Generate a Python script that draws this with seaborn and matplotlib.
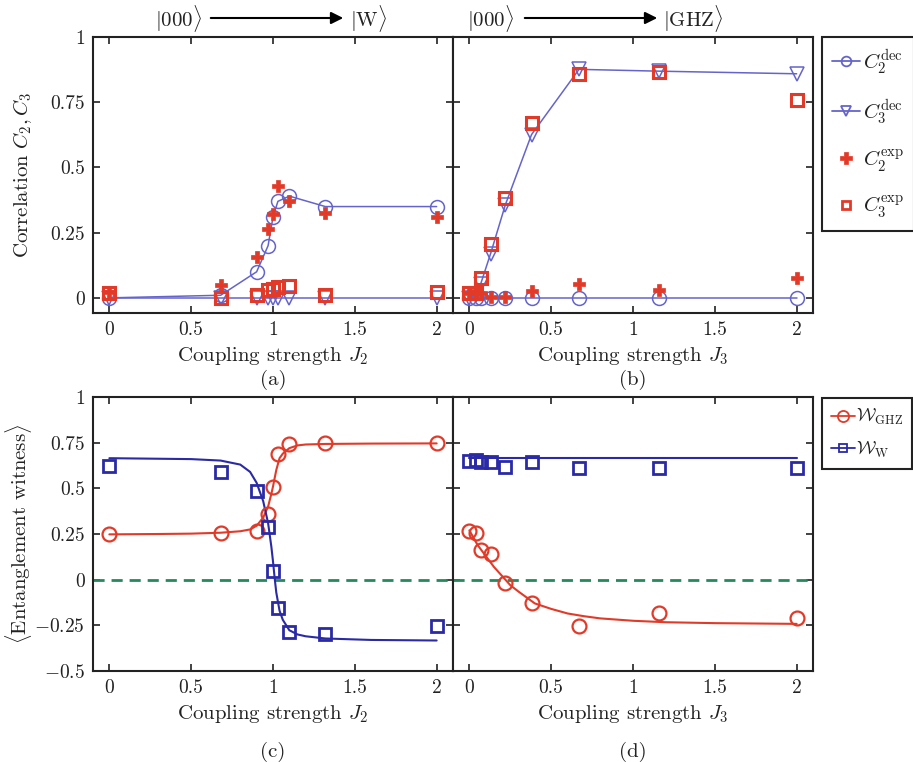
import matplotlib
matplotlib.use("Agg")
import matplotlib.pyplot as plt
from matplotlib.lines import Line2D
from matplotlib.patches import FancyArrowPatch
import seaborn as sns

# ---------------- data ----------------
J2 = [0.0, 0.68, 0.90, 0.97, 1.00, 1.03, 1.10, 1.32, 2.00]
J3 = [0.0, 0.04, 0.07, 0.13, 0.22, 0.38, 0.67, 1.16, 2.00]

# panel (a)
c2_dec_a = [0.0, 0.01, 0.10, 0.20, 0.31, 0.37, 0.39, 0.35, 0.35]
c3_dec_a = [0.0, 0.0, 0.0, 0.0, 0.0, 0.0, 0.0, 0.0, 0.0]
c2_exp_a = [0.024, 0.05, 0.155, 0.265, 0.32, 0.43, 0.37, 0.325, 0.31]
c3_exp_a = [0.018, 0.0, 0.01, 0.03, 0.035, 0.04, 0.045, 0.01, 0.024]

# panel (b)
c2_dec_b = [0.0, 0.0, 0.0, 0.0, 0.0, 0.0, 0.0, 0.0, 0.0]
c3_dec_b = [0.0, 0.01, 0.055, 0.17, 0.357, 0.626, 0.876, 0.869, 0.859]
c2_exp_b = [0.02, 0.025, 0.02, 0.005, 0.005, 0.027, 0.055, 0.03, 0.078]
c3_exp_b = [0.02, 0.02, 0.077, 0.207, 0.382, 0.67, 0.857, 0.866, 0.758]

# panel (c)
wghz_c = [0.248, 0.257, 0.266, 0.36, 0.505, 0.687, 0.743, 0.746, 0.746]
ww_c = [0.625, 0.592, 0.484, 0.288, 0.045, -0.154, -0.284, -0.30, -0.254]
fit_x_c = [0.0, 0.3, 0.5, 0.68, 0.8, 0.86, 0.9, 0.94, 0.97, 0.99, 1.0,
           1.01, 1.02, 1.04, 1.06, 1.1, 1.15, 1.2, 1.32, 1.6, 2.0]
fit_ghz_c = [0.248, 0.25, 0.252, 0.257, 0.265, 0.275, 0.295, 0.34, 0.40,
             0.47, 0.51, 0.555, 0.60, 0.665, 0.69, 0.72, 0.735, 0.74,
             0.743, 0.745, 0.746]
fit_w_c = [0.665, 0.662, 0.66, 0.652, 0.63, 0.59, 0.53, 0.43, 0.31, 0.18,
           0.10, 0.01, -0.07, -0.17, -0.22, -0.277, -0.30, -0.31, -0.322,
           -0.33, -0.333]

# panel (d)
wghz_d = [0.267, 0.253, 0.162, 0.14, -0.018, -0.127, -0.255, -0.184, -0.211]
ww_d = [0.649, 0.653, 0.645, 0.642, 0.616, 0.645, 0.613, 0.613, 0.609]
fit_x_d = [0.0, 0.05, 0.1, 0.15, 0.2, 0.25, 0.3, 0.4, 0.5, 0.6, 0.7, 0.8,
           1.0, 1.2, 1.5, 2.0]
fit_ghz_d = [0.27, 0.19, 0.13, 0.07, 0.02, -0.03, -0.065, -0.13, -0.16,
             -0.185, -0.2, -0.212, -0.225, -0.233, -0.238, -0.242]
fit_wx_d = [0.0, 2.0]
fit_w_d = [0.664, 0.664]

x_ticks = [0, 0.5, 1, 1.5, 2]
x_tick_labels = ["0", "0.5", "1", "1.5", "2"]
y_ticks_top = [0, 0.25, 0.5, 0.75, 1]
y_tick_labels_top = ["0", "0.25", "0.5", "0.75", "1"]
y_ticks_bot = [-0.5, -0.25, 0, 0.25, 0.5, 0.75, 1]
y_tick_labels_bot = ["$-0.5$", "$-0.25$", "0", "0.25", "0.5", "0.75", "1"]

# ---------------- style ----------------
sns.set_theme(style="ticks")
INK = "#222222"
plt.rcParams.update({
    "font.family": ["cmr10"],
    "mathtext.fontset": "cm",
    "axes.formatter.use_mathtext": True,
    "axes.unicode_minus": False,
    "axes.linewidth": 1.5,
    "axes.edgecolor": INK,
    "xtick.direction": "in", "ytick.direction": "in",
    "xtick.top": True, "ytick.right": True,
    "xtick.major.size": 5, "ytick.major.size": 5,
    "xtick.major.width": 1.2, "ytick.major.width": 1.2,
    "xtick.color": INK, "ytick.color": INK,
    "xtick.labelsize": 14, "ytick.labelsize": 14,
    "axes.labelsize": 15, "text.color": INK, "axes.labelcolor": INK,
})

DEC_BLUE = "#6464cc"
RED = "#e23a28"
W_BLUE = "#2a2aa6"
GREEN = "#238a5c"

W, H = 913, 762
fig = plt.figure(figsize=(W / 100, H / 100), dpi=100)


def add_ax(x0, y0, x1, y1):
    return fig.add_axes([x0 / W, 1 - y1 / H, (x1 - x0) / W, (y1 - y0) / H])


ax_a = add_ax(93, 37, 453, 313)
ax_b = add_ax(453, 37, 813, 313)
ax_c = add_ax(93, 397, 453, 671)
ax_d = add_ax(453, 397, 813, 671)

lab_c2d = r"$C_{2}^{\mathrm{dec}}$"
lab_c3d = r"$C_{3}^{\mathrm{dec}}$"
lab_c2e = r"$C_{2}^{\mathrm{exp}}$"
lab_c3e = r"$C_{3}^{\mathrm{exp}}$"


def corr_panel(ax, x, c2d, c3d, c2e, c3e):
    sns.lineplot(x=x, y=c2d, ax=ax, color=DEC_BLUE, lw=1.1, marker="o", ms=10,
                 mfc="none", mec=DEC_BLUE, mew=1.1,
                 estimator=None, sort=False)
    sns.lineplot(x=x, y=c3d, ax=ax, color=DEC_BLUE, lw=1.1, marker="v", ms=10,
                 mfc="none", mec=DEC_BLUE, mew=1.1,
                 estimator=None, sort=False)
    sns.lineplot(x=x, y=c2e, ax=ax, color=RED, linestyle="", marker="P", ms=9,
                 mec=RED, mew=0.5, estimator=None, sort=False)
    sns.lineplot(x=x, y=c3e, ax=ax, color=RED, linestyle="", marker="s", ms=8,
                 mfc="none", mec=RED, mew=2.2,
                 estimator=None, sort=False)
    ax.set_xlim(-0.1, 2.1)
    ax.set_ylim(-0.058, 1.0)
    ax.set_yticks(y_ticks_top, labels=y_tick_labels_top)


corr_panel(ax_a, J2, c2_dec_a, c3_dec_a, c2_exp_a, c3_exp_a)
corr_panel(ax_b, J3, c2_dec_b, c3_dec_b, c2_exp_b, c3_exp_b)

lab_ghz = r"$\mathcal{W}_{\mathrm{GHZ}}$"
lab_w = r"$\mathcal{W}_{\mathrm{W}}$"


def wit_panel(ax, x, wg, ww, fxg, fyg, fxw, fyw):
    ax.axhline(0, color=GREEN, lw=2, ls=(0, (4, 2.5)), zorder=1)
    sns.lineplot(x=fxg, y=fyg, ax=ax, color=RED, lw=1.5, estimator=None, sort=False)
    sns.lineplot(x=fxw, y=fyw, ax=ax, color=W_BLUE, lw=1.5, estimator=None, sort=False)
    sns.lineplot(x=x, y=wg, ax=ax, color=RED, linestyle="", marker="o", ms=10,
                 mfc="none", mec=RED, mew=1.6, estimator=None, sort=False)
    sns.lineplot(x=x, y=ww, ax=ax, color=W_BLUE, linestyle="", marker="s", ms=8,
                 mfc="none", mec=W_BLUE, mew=2.0, estimator=None, sort=False)
    ax.set_xlim(-0.1, 2.1)
    ax.set_ylim(-0.5, 1.0)
    ax.set_yticks(y_ticks_bot, labels=y_tick_labels_bot)


wit_panel(ax_c, J2, wghz_c, ww_c, fit_x_c, fit_ghz_c, fit_x_c, fit_w_c)
wit_panel(ax_d, J3, wghz_d, ww_d, fit_x_d, fit_ghz_d, fit_wx_d, fit_w_d)

for ax in (ax_a, ax_b, ax_c, ax_d):
    ax.set_xticks(x_ticks, labels=x_tick_labels)
    ax.tick_params(axis="x", pad=6)
    ax.tick_params(axis="y", pad=6)
    for s in ax.spines.values():
        s.set_visible(True)
        s.set_linewidth(1.5)
        s.set_color(INK)
    if ax.get_legend() is not None:
        ax.get_legend().remove()

for ax in (ax_b, ax_d):
    ax.tick_params(axis="y", labelleft=False)

ax_a.set_xlabel(r"Coupling strength $J_2$")
ax_b.set_xlabel(r"Coupling strength $J_3$")
ax_c.set_xlabel(r"Coupling strength $J_2$")
ax_d.set_xlabel(r"Coupling strength $J_3$")
for ax in (ax_a, ax_b, ax_c, ax_d):
    ax.xaxis.set_label_coords(0.5, -0.115)

ax_a.set_ylabel(r"Correlation $C_2, C_3$")
ax_c.set_ylabel(r"$\langle$Entanglement witness$\rangle$")
ax_a.yaxis.set_label_coords(-0.165, 0.5)
ax_c.yaxis.set_label_coords(-0.165, 0.5)

# panel letters
for px, py, t in [(273, 380, "(a)"), (633, 380, "(b)"),
                  (273, 752, "(c)"), (633, 752, "(d)")]:
    fig.text(px / W, 1 - py / H, t, ha="center", va="center", fontsize=15)

# top state-transition annotations
for (tx0, t0, ax0, ax1, tx1, t1) in [(155, r"$|000\rangle$", 208, 346, 350, r"$|\mathrm{W}\rangle$"),
                                     (467, r"$|000\rangle$", 522, 660, 663, r"$|\mathrm{GHZ}\rangle$")]:
    fig.text(tx0 / W, 1 - 18 / H, t0, ha="left", va="center", fontsize=15)
    fig.text(tx1 / W, 1 - 18 / H, t1, ha="left", va="center", fontsize=15)
    fig.add_artist(FancyArrowPatch(
        (ax0 / W, 1 - 18 / H), (ax1 / W, 1 - 18 / H), transform=fig.transFigure,
        arrowstyle="-|>", mutation_scale=18, lw=1.5, color="black"))

# legends
h1 = Line2D([], [], color=DEC_BLUE, lw=1.3, marker="o", ms=7, mfc="none", mec=DEC_BLUE, mew=1.3)
h2 = Line2D([], [], color=DEC_BLUE, lw=1.3, marker="v", ms=7, mfc="none", mec=DEC_BLUE, mew=1.3)
h3 = Line2D([], [], color=RED, ls="", marker="P", ms=8, mec=RED, mew=0.5)
h4 = Line2D([], [], color=RED, ls="", marker="s", ms=6, mfc="none", mec=RED, mew=2.0)
leg1 = fig.legend([h1, h2, h3, h4], [lab_c2d, lab_c3d, lab_c2e, lab_c3e],
                  loc="upper left",
                  bbox_to_anchor=(822 / W, 1 - 37 / H), bbox_transform=fig.transFigure,
                  fontsize=15, frameon=True, fancybox=False, framealpha=1,
                  edgecolor=INK, handlelength=1.3, handletextpad=0.15,
                  labelspacing=0.95, borderpad=0.5, borderaxespad=0)
leg1.get_frame().set_linewidth(1.5)

h_g = Line2D([], [], color=RED, lw=1.3, marker="o", ms=8,
             mfc="none", mec=RED, mew=1.3)
h_w = Line2D([], [], color=W_BLUE, lw=1.3, marker="s", ms=6,
             mfc="none", mec=W_BLUE, mew=1.3)
leg2 = fig.legend([h_g, h_w], [lab_ghz, lab_w], loc="upper left",
                  bbox_to_anchor=(822 / W, 1 - 398 / H), bbox_transform=fig.transFigure,
                  fontsize=13, frameon=True, fancybox=False, framealpha=1,
                  edgecolor=INK, handlelength=1.3, handletextpad=0.1,
                  labelspacing=0.7, borderpad=0.5, borderaxespad=0)
leg2.get_frame().set_linewidth(1.5)

fig.savefig("out.png", dpi=100)
